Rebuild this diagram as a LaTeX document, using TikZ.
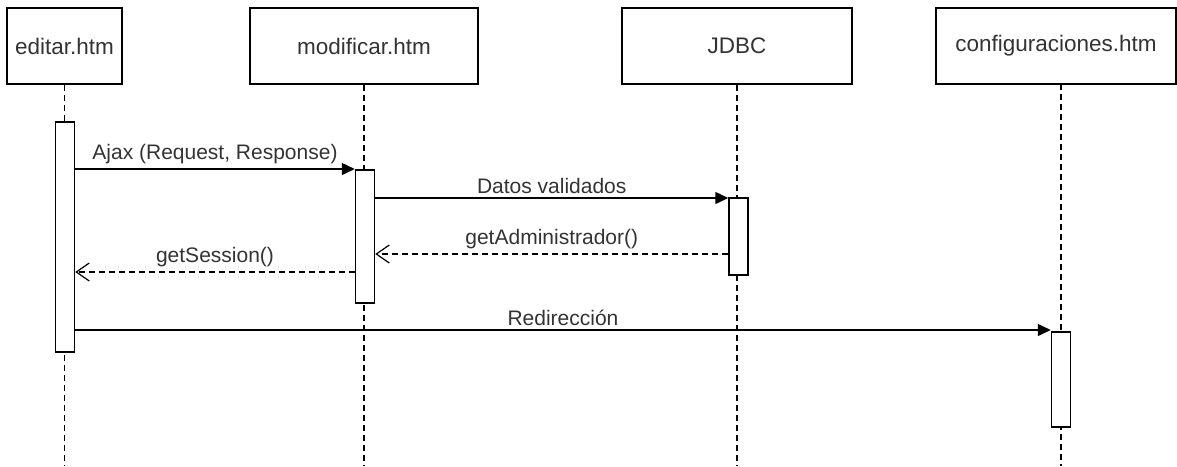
\documentclass[tikz,border=0pt]{standalone}
\usepackage{fontspec}
\setmainfont{Liberation Sans}
\usetikzlibrary{arrows.meta}
\definecolor{txtgray}{RGB}{51,51,51}

\begin{document}
\begin{tikzpicture}[x=1pt,y=-1pt,line width=1.5pt,font=\fontsize{21}{25}\selectfont,
  head/.style={draw,minimum height=76pt,inner sep=0pt,text=txtgray,font=\fontsize{22.5}{27}\selectfont},
  bar/.style={draw,fill=white,minimum width=19pt,inner sep=0pt},
  life/.style={dash pattern=on 6pt off 4pt,line width=1.2pt},
  call/.style={-{Triangle[length=13pt,width=12pt]}},
  reply/.style={dash pattern=on 6pt off 4pt,-{Straight Barb[length=13pt,width=18pt,line width=1.2pt]}},
  lbl/.style={text=txtgray,inner sep=4pt}]
\useasboundingbox (0,0) rectangle (1177,466);
\node[head,minimum width=115pt] (ed) at (64.5,46) {editar.htm};
\node[head,minimum width=228pt] (mod) at (364,46) {modificar.htm};
\node[head,minimum width=230pt] (jdbc) at (737,46) {JDBC};
\node[head,minimum width=240pt] (cfg) at (1056,46) {configuraciones.htm};
\coordinate (bottom) at (0,466);
\coordinate (cfgtop) at (1061,84);
\draw [life] (ed.south) -- (ed.south |- bottom);
\draw [life] (mod.south) -- (mod.south |- bottom);
\draw [life] (jdbc.south) -- (jdbc.south |- bottom);
\draw [life] (cfgtop) -- (cfgtop |- bottom);
\node[bar,minimum height=230pt] (edbar) at (65,237) {};
\node[bar,minimum height=133pt] (modbar) at (365,236.5) {};
\node[bar,minimum height=77pt] (jdbcbar) at (738.5,236.5) {};
\node[bar,minimum height=95pt] (cfgbar) at (1061,379.5) {};
\coordinate (rowA) at (0,169);
\coordinate (rowB) at (0,198);
\coordinate (rowC) at (0,254);
\coordinate (rowD) at (0,272);
\coordinate (rowE) at (0,330);
\draw [call] (edbar.east |- rowA) -- (modbar.west |- rowA) node[lbl,midway,above] {Ajax (Request, Response)};
\draw [call] (modbar.east |- rowB) -- (jdbcbar.west |- rowB) node[lbl,midway,above] {Datos validados};
\draw [reply] (jdbcbar.west |- rowC) -- (modbar.east |- rowC) node[lbl,midway,above] {getAdministrador()};
\draw [reply] (modbar.west |- rowD) -- (edbar.east |- rowD) node[lbl,midway,above] {getSession()};
\draw [call] (edbar.east |- rowE) -- (cfgbar.west |- rowE) node[lbl,midway,above] {Redirección};
\end{tikzpicture}
\end{document}
